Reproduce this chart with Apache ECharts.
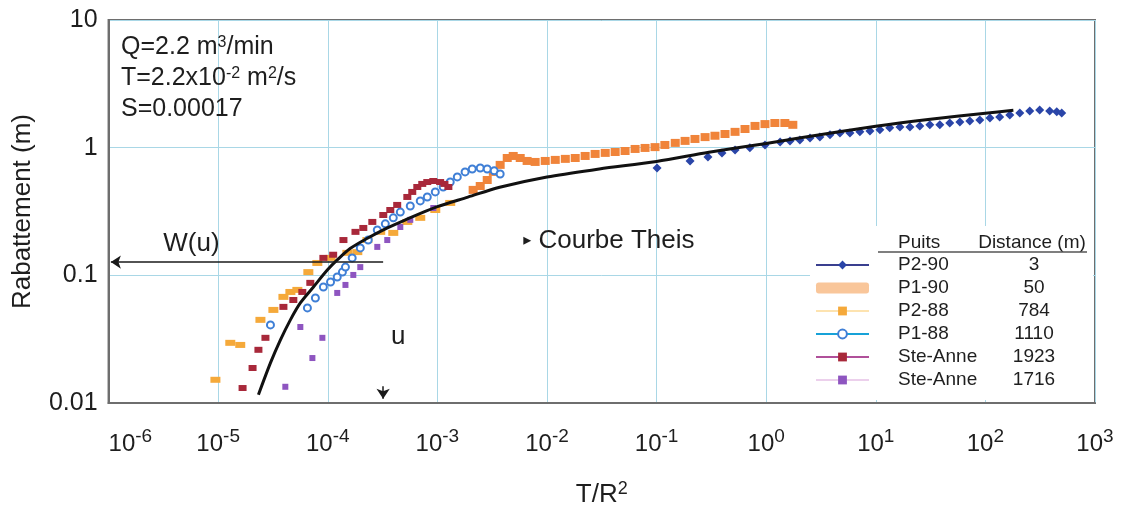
<!DOCTYPE html>
<html><head><meta charset="utf-8">
<script src="https://cdn.jsdelivr.net/npm/echarts@6/dist/echarts.min.js"></script>
<style>html,body{margin:0;padding:0;background:#fff}#c{width:1126px;height:520px}</style>
</head><body><div id="c"></div>
<script>
// ---- data ----
const wells = ['P2-90', 'P1-90', 'P2-88', 'P1-88', 'Ste-Anne', 'Ste-Anne'];
const distances = ['3', '50', '784', '1110', '1923', '1716'];
const legendHeader = ['Puits', 'Distance (m)'];
const xTickExponents = [-6, -5, -4, -3, -2, -1, 0, 1, 2, 3];
const yTickLabels = ['0.01', '0.1', '1', '10'];
const params = ['Q=2.2 m{s|3}/min', 'T=2.2x10{s|-2} m{s|2}/s', 'S=0.00017'];
const theisLabel = 'Courbe Theis';

const theis = [[2.33e-5,0.0116],[3.0e-5,0.0206],[3.7e-5,0.0312],[4.56e-5,0.0448],[5.62e-5,0.0608],[7.4e-5,0.0811],[9.9e-5,0.110],[1.22e-4,0.132],[1.6e-4,0.162],[2.3e-4,0.195],[3.5e-4,0.235],[5e-4,0.27],[1e-3,0.345],[1.9e-3,0.41],[3.7e-3,0.49],[0.01,0.59],[0.03,0.68],[0.1,0.78],[0.3,0.92],[1,1.08],[2,1.19],[10,1.47],[30,1.66],[100,1.86],[180,1.96]];

const p2_90 = [[0.101,0.693],[0.202,0.787],[0.294,0.846],[0.395,0.91],[0.52,0.96],[0.71,1.0],[0.975,1.05],[1.34,1.11],[1.65,1.13],[2.03,1.15],[2.51,1.19],[3.09,1.21],[3.82,1.26],[4.71,1.30],[5.81,1.30],[7.16,1.33],[8.84,1.35],[10.9,1.38],[13.4,1.43],[16.6,1.45],[20.5,1.45],[25.2,1.48],[31.1,1.51],[38.4,1.51],[47.3,1.56],[58.5,1.59],[72.1,1.62],[88.9,1.65],[110,1.71],[135,1.74],[167,1.80],[206,1.87],[254,1.94],[313,1.97],[386,1.94],[448,1.91],[497,1.87]];

const p1_90 = [[2.12e-3,0.467],[2.46e-3,0.501],[2.85e-3,0.558],[3.24e-3,0.646],[3.74e-3,0.733],[4.34e-3,0.830],[4.92e-3,0.861],[5.70e-3,0.830],[6.59e-3,0.787],[7.80e-3,0.773],[9.64e-3,0.787],[0.0119,0.802],[0.0147,0.817],[0.0181,0.830],[0.0223,0.861],[0.0275,0.893],[0.034,0.910],[0.0419,0.925],[0.0516,0.942],[0.0637,0.977],[0.0785,0.995],[0.0968,1.01],[0.119,1.05],[0.148,1.09],[0.182,1.13],[0.224,1.17],[0.277,1.21],[0.341,1.24],[0.421,1.28],[0.52,1.33],[0.641,1.40],[0.791,1.48],[0.975,1.53],[1.20,1.56],[1.48,1.56],[1.75,1.51]];

const p2_88 = [[9.44e-6,0.0152],[1.29e-5,0.0296],[1.59e-5,0.0285],[2.43e-5,0.0448],[3.19e-5,0.0536],[3.94e-5,0.0678],[4.56e-5,0.0741],[5.28e-5,0.0769],[6.65e-5,0.106],[8.03e-5,0.125],[1.06e-4,0.137],[1.51e-4,0.150],[1.86e-4,0.152],[2.30e-4,0.189],[3.01e-4,0.219],[3.96e-4,0.215],[5.32e-4,0.262],[6.98e-4,0.282],[9.57e-4,0.325],[1.31e-3,0.369]];

const p1_88 = [[3.0e-5,0.0409],[6.52e-5,0.0556],[7.71e-5,0.0665],[9.12e-5,0.0811],[1.06e-4,0.0887],[1.22e-4,0.0971],[1.36e-4,0.106],[1.45e-4,0.116],[1.67e-4,0.137],[1.98e-4,0.164],[2.34e-4,0.189],[2.83e-4,0.227],[3.35e-4,0.253],[3.96e-4,0.282],[4.59e-4,0.313],[5.66e-4,0.349],[6.98e-4,0.383],[8.09e-4,0.411],[9.57e-4,0.450],[1.13e-3,0.492],[1.31e-3,0.538],[1.52e-3,0.590],[1.79e-3,0.646],[2.08e-3,0.681],[2.46e-3,0.693],[2.85e-3,0.681],[3.30e-3,0.658],[3.74e-3,0.622]];

const steAnne1923 = [[1.67e-5,0.0131],[2.06e-5,0.0188],[2.33e-5,0.0261],[2.70e-5,0.0324],[3.94e-5,0.0566],[4.85e-5,0.0641],[5.86e-5,0.0741],[6.93e-5,0.0873],[9.12e-5,0.137],[1.12e-4,0.145],[1.39e-4,0.189],[1.79e-4,0.219],[2.11e-4,0.235],[2.55e-4,0.262],[3.21e-4,0.297],[3.72e-4,0.325],[4.3e-4,0.356],[5.32e-4,0.411],[5.9e-4,0.450],[6.56e-4,0.492],[7.28e-4,0.520],[8.09e-4,0.538],[9.18e-4,0.548],[1.06e-3,0.538],[1.16e-3,0.520],[1.26e-3,0.492]];

const steAnne1716 = [[4.1e-5,0.0134],[5.62e-5,0.0394],[7.24e-5,0.0225],[8.93e-5,0.0324],[1.22e-4,0.0728],[1.45e-4,0.0841],[1.71e-4,0.1007],[1.98e-4,0.116],[2.83e-4,0.167],[3.49e-4,0.189],[4.59e-4,0.239],[5.66e-4,0.272],[9.18e-4,0.337]];

const wellData = [p2_90, p1_90, p2_88, p1_88, steAnne1923, steAnne1716];

// ---- styles ----
const FONT = 'Liberation Sans, Arial, sans-serif';
const INK = '#1e1e1e';
const colors = ['#2a45a8', '#f0843a', '#f5a93a', '#3f7fd6', '#a8283a', '#8e55c0'];
const symbols = ['diamond', 'rect', 'rect', 'emptyCircle', 'rect', 'rect'];
const symbolSizes = [9, [9, 8], [10, 6], 7, [8, 6], 6];
const legendLine = [
  {color: '#3a3f8f', width: 2}, {color: '#f9c69a', width: 2}, {color: '#fde3b0', width: 2},
  {color: '#17a2d8', width: 2}, {color: '#b0509a', width: 2}, {color: '#ecd0ec', width: 2}];
const legendIcons = [null, 'roundRect', null, null, null, null];

const seriesNames = wells.map((w, i) => w + ' ' + distances[i]);

const chart = echarts.init(document.getElementById('c'), null, {renderer: 'canvas'});

const wellSeries = wellData.map((d, i) => ({
  name: seriesNames[i],
  type: 'line',
  data: d,
  symbol: symbols[i],
  symbolSize: symbolSizes[i],
  showAllSymbol: true,
  color: colors[i],
  lineStyle: {opacity: 0, width: 0},
  itemStyle: {color: colors[i], borderColor: colors[i], borderWidth: symbols[i] === 'emptyCircle' ? 2 : 0},
  z: 3
}));

const annotLabel = (text, position, extra) => Object.assign({
  show: true, position: position, formatter: text, fontSize: 26, color: INK, fontFamily: FONT,
  opacity: 1, textBorderWidth: 0, textBorderColor: 'transparent', textShadowBlur: 0
}, extra || {});

const option = {
  animation: false,
  backgroundColor: '#fff',
  title: {
    text: params.join('\n'),
    left: 116, top: 27,
    textStyle: {
      fontFamily: FONT, fontSize: 25, fontWeight: 'normal',
      color: INK, lineHeight: 31,
      rich: {s: {fontFamily: FONT, fontSize: 16, verticalAlign: 'top', lineHeight: 14, padding: [3, 0, 0, 0], color: INK}}
    }
  },
  grid: {left: 108, right: 31, top: 20, bottom: 117, show: true, borderColor: '#6e6e6e', borderWidth: 2},
  xAxis: {
    type: 'log', logBase: 10, min: 1e-6, max: 1e3, interval: 1,
    name: 'T/R{s|2}', nameLocation: 'middle', nameGap: 77,
    nameTextStyle: {fontFamily: FONT, fontSize: 26, color: INK, lineHeight: 30,
      rich: {s: {fontFamily: FONT, fontSize: 18, verticalAlign: 'top', lineHeight: 10, color: INK}}},
    axisLine: {lineStyle: {color: '#6e6e6e', width: 2}},
    axisTick: {show: false},
    splitLine: {show: true, lineStyle: {color: '#a9d7e6', width: 1}},
    axisLabel: {
      margin: 24, alignMinLabel: 'left',
      formatter: v => {
        const e = Math.round(Math.log10(v));
        const idx = xTickExponents.indexOf(e);
        return idx < 0 ? '' : '{b|10}{s|' + xTickExponents[idx] + '}';
      },
      rich: {
        b: {fontFamily: FONT, fontSize: 24, lineHeight: 34, color: INK},
        s: {fontFamily: FONT, fontSize: 19, lineHeight: 8, verticalAlign: 'top', color: INK}
      }
    }
  },
  yAxis: {
    type: 'log', logBase: 10, min: 0.01, max: 10, interval: 1,
    name: 'Rabattement (m)', nameLocation: 'middle', nameGap: 64, nameRotate: 90,
    nameTextStyle: {fontFamily: FONT, fontSize: 26, color: INK, lineHeight: 30},
    axisLine: {lineStyle: {color: '#6e6e6e', width: 2}},
    axisTick: {show: false},
    splitLine: {show: true, lineStyle: {color: '#a9d7e6', width: 1}},
    axisLabel: {
      margin: 11, fontFamily: FONT, fontSize: 25, color: INK,
      formatter: v => yTickLabels[Math.round(Math.log10(v)) + 2] || ''
    }
  },
  legend: {
    orient: 'vertical', left: 815, top: 255, padding: 0,
    itemWidth: 53, itemHeight: 11, itemGap: 3,
    selectedMode: false,
    data: seriesNames.map((n, i) => {
      const it = {name: n, lineStyle: Object.assign({opacity: 1}, legendLine[i])};
      if (legendIcons[i]) { it.icon = legendIcons[i]; it.itemStyle = {color: legendLine[i].color}; }
      return it;
    }),
    formatter: name => {
      const i = seriesNames.indexOf(name);
      return '{sp| }{n|' + wells[i] + '}{d|' + distances[i] + '}';
    },
    textStyle: {
      fontFamily: FONT, fontSize: 19, color: INK, lineHeight: 20,
      rich: {
        sp: {width: 24, fontSize: 19},
        n: {width: 101, fontSize: 19, fontFamily: FONT, color: INK},
        d: {width: 70, align: 'center', fontSize: 19, fontFamily: FONT, color: INK}
      }
    }
  },
  graphic: [
    {type: 'rect', shape: {x: 810, y: 226, width: 283, height: 174}, style: {fill: '#fff'}, z: 1, silent: true},
    {type: 'text', x: 898, y: 243, z: 5, style: {text: legendHeader[0], fontSize: 19, fontFamily: FONT, fill: INK, verticalAlign: 'middle'}},
    {type: 'text', x: 1032, y: 243, z: 5, style: {text: legendHeader[1], fontSize: 19, fontFamily: FONT, fill: INK, align: 'center', verticalAlign: 'middle'}},
    {type: 'line', z: 5, shape: {x1: 878, y1: 252, x2: 1087, y2: 252}, style: {stroke: '#555', lineWidth: 1.5}}
  ],
  series: wellSeries.concat([
    {
      name: theisLabel, type: 'line', data: theis, smooth: 0.3, symbol: 'none',
      lineStyle: {color: '#111', width: 3}, z: 4
    },
    {
      name: '_annot', type: 'scatter', symbolSize: 0, silent: true, z: 5,
      itemStyle: {color: INK, opacity: 1},
      data: [
        {value: [5.7e-6, 0.176], label: annotLabel('W(u)', 'inside')},
        {value: [4.4e-4, 0.033], label: annotLabel('u', 'inside')},
        {value: [6.07e-3, 0.186], label: annotLabel('{t|\u25B8} ' + theisLabel, 'right',
          {distance: 0, rich: {t: {fontSize: 16, fontFamily: 'DejaVu Sans', color: INK}}})}
      ],
      markLine: {
        silent: true, animation: false, label: {show: false},
        symbol: ['none', 'arrow'], symbolSize: 10,
        lineStyle: {color: '#1a1a1a', width: 1.5, type: 'solid'},
        data: [
          [{coord: [3.2e-4, 0.127]}, {coord: [1.05e-6, 0.127]}],
          [{coord: [3.2e-4, 0.0135]}, {coord: [3.2e-4, 0.0108]}]
        ]
      }
    }
  ])
};
chart.setOption(option);
</script>
</body></html>
